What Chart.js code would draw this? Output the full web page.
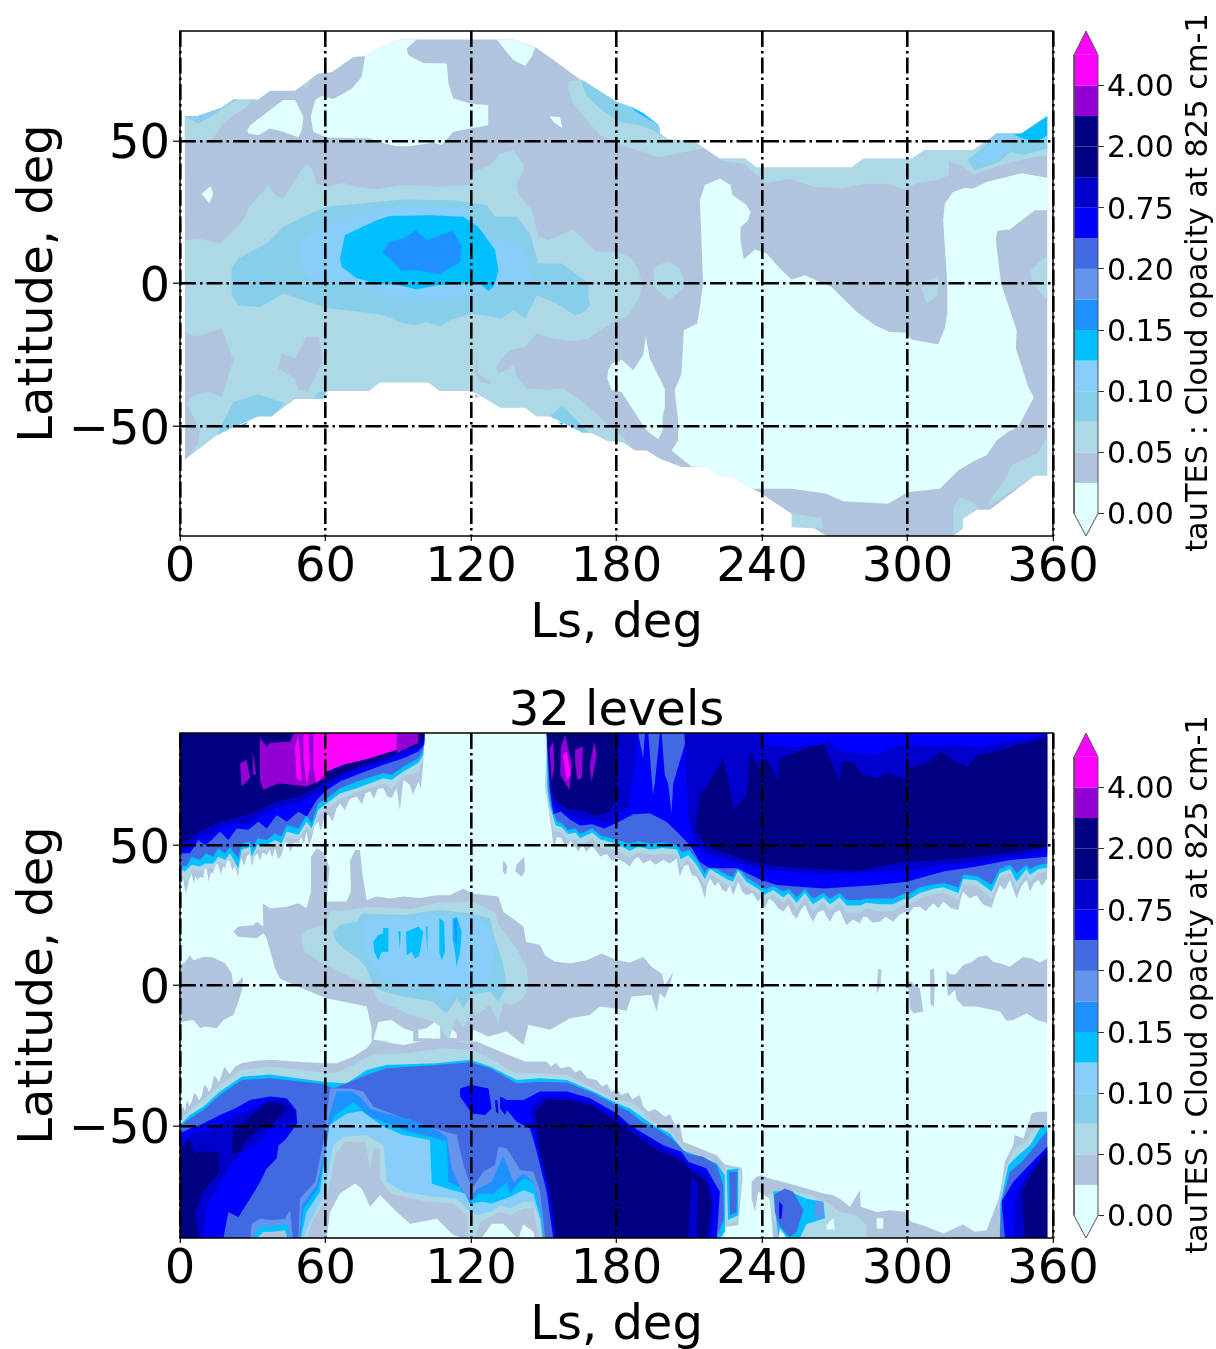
<!DOCTYPE html>
<html><head><meta charset="utf-8">
<style>html,body{margin:0;padding:0;background:#fff;width:1216px;height:1349px;overflow:hidden}canvas{position:absolute}</style>
<script src="https://cdn.jsdelivr.net/npm/chart.js@4"></script></head><body>
<canvas id="top" width="1100" height="647" style="left:0;top:0"></canvas>
<canvas id="bot" width="1100" height="699" style="left:0;top:650px"></canvas>
<canvas id="cbTop" width="156" height="570" style="left:1060px;top:0"></canvas>
<canvas id="cbBot" width="156" height="570" style="left:1060px;top:702px"></canvas>
<script>
const LS_TICKS=[0,60,120,180,240,300,360];
const LAT_TICKS=[-50,0,50];
const CB_TICKS=[0,2,4,6,8,10,12,14];
const CB_LABELS=['0.00','0.05','0.10','0.15','0.20','0.75','2.00','4.00'];
const CB_COLORS=['#e0ffff','#b0c4de','#add8e6','#87ceeb','#87cefa','#00bfff','#1e90ff','#6495ed','#4169e1','#0000ff','#0000cd','#000080','#000080','#9400d3','#ff00ff'];
const CYAN='#e0ffff',STEEL='#b0c4de',LIGHT='#add8e6',SKY='#87ceeb',LSKY='#87cefa',DEEP='#00bfff',DODGER='#1e90ff',CORN='#6495ed',ROYAL='#4169e1',BLUE='#0000ff',MEDIUM='#0000cd',NAVY='#000080',VIOLET='#9400d3',MAGENTA='#ff00ff';

/* ---------- upper panel: Ls, latitude contour outlines ---------- */
const P1_BOTTOM=[[180,-55.3],[176.6,-55.3],[169.8,-52.4],[166.3,-52.4],[152.6,-46.5],[147,-46.5],[142.3,-43.5],[132,-43.5],[126.5,-40.6],[120.3,-37.7],[107.2,-37.7],[102.4,-34.6],[82.5,-34.6],[77.7,-37.7],[60.5,-37.7],[59,-40.4],[47.4,-40.4],[37.8,-46.5],[32.3,-46.5],[20.6,-50.9],[15.1,-53.2],[2.1,-61.6]];
const P1_DOMAIN=[[2,58.6],[6.9,58.6],[17.2,61.6],[22,64.5],[32.3,64.5],[37.1,67.6],[47.4,67.6],[57,73.6],[62.5,74],[71.5,79.4],[76.3,79.7],[81,82.4],[90.7,85.5],[137.5,85.5],[147,82.6],[154.6,78],[165,71.5],[180,63.7],[182,62],[186,62],[197.5,55.5],[198,52.6],[201.3,50.5],[211.6,50],[222.6,43.8],[233,43.8],[237.7,40.7],[277,40.7],[281.7,43.7],[301.6,43.7],[307,46.7],[327,46.7],[336.7,52.6],[347,52.6],[357.6,58.6],[357.6,-67.3],[352.5,-67.3],[334,-79.3],[328.5,-79.3],[322.7,-82.5],[322.7,-86],[318.8,-88.5],[266.6,-88.5],[252.2,-80.7],[239.8,-73.7],[227.4,-67.6],[221.9,-67.3],[217.1,-64.3],[206.8,-64.3],[197.9,-61.4],[192.4,-58.5],[187.6,-58.5],[182.7,-55.6],...P1_BOTTOM];
const P1_CYAN_A=[[92.1,85.5],[97.6,85.5],[93.5,82.4],[94.2,80],[100.3,77.3],[110,77.1],[110.7,70.1],[112.7,64.8],[119.6,63.1],[127.1,62.5],[127.1,55.5],[119.6,54.3],[112.7,53.2],[107.9,48.5],[104.5,49.3],[94.8,48.1],[89.3,48.1],[81.8,49.6],[78.4,50.8],[60.5,51.2],[55,53.2],[53.9,58.4],[55.7,64.3],[58.4,65.7],[63.2,64.7],[70.8,68.3],[74.9,72.4],[76.3,79.7],[81.1,82.4],[90.7,85.5]];
const P1_CYAN_B=[[27.8,53.7],[28.9,55.5],[42.6,64.3],[47.4,64.3],[50.9,58.4],[50.2,53.7],[48.8,51.2],[42.6,53.2],[37.1,54.3],[32.3,52],[28.2,52.6]];
const P1_CYAN_C=[[130.6,85.5],[137.5,85.5],[146.4,82.6],[145,79.4],[142.3,76.2],[137.5,78.3],[134,81.8]];
const P1_CYAN_D=[[152.3,58.6],[156.7,58.4],[157.7,54.3],[154,56.7]];
const P1_CYAN_E=[[8.9,31.5],[12.6,34.1],[13.7,31.5],[12.1,28]];
const P1_CYAN_F=[[214.4,29.2],[216.4,34.5],[222.6,36.8],[227,34.5],[227.8,31],[233.6,27.5],[235.3,25.1],[234.3,22.2],[231.1,19.6],[231.1,15.2],[232.5,8.4],[237,11.9],[241.9,10.5],[247.4,5.3],[252.2,1.4],[257.7,2.9],[265.2,0],[268.7,-1.2],[279,-9.9],[286.5,-14.6],[292.7,-17],[299.6,-17.3],[301.6,-19.6],[312.6,-21.3],[315.4,-15.8],[316.4,-10.5],[316.4,0],[314.7,22.2],[315.4,28],[318.8,32.1],[323.6,33.5],[327.1,33.3],[332.6,35.6],[347,38.6],[357.6,37.1],[357.6,25.7],[352.5,25.7],[342.2,18.9],[337,18.5],[336.4,15.2],[338.6,0],[345,-16.4],[344.7,-22.8],[349.8,-36.3],[352.1,-40],[345.6,-50.3],[341.5,-52],[336.7,-55],[332.6,-60.2],[327.8,-62],[320.9,-65.5],[313.3,-71.9],[300.3,-73.1],[292,-77.2],[273.5,-76.3],[266.6,-73.7],[252.2,-71.9],[236.4,-71.9],[227.4,-67.6],[221.9,-67.3],[217.1,-64.3],[210.9,-64.1],[202.7,-58.5],[205.4,-55],[205.4,-47.9],[204,-37.4],[206.8,-31.6],[207.8,-16.4],[213.3,-14],[214.6,-7],[215.7,0]];
const P1_CYAN_G=[[176.6,-30.4],[176.2,-33.3],[178,-37.4],[180,-37.7],[182.1,-38],[186.9,-44.4],[192.4,-51.5],[197.2,-54.6],[199,-51.5],[199,-46.8],[199.9,-43.3],[199.9,-36.8],[193.7,-26.3],[192.1,-18.7],[191,-25.1],[186.9,-30.4],[182.1,-26.7],[180,-27.5],[178,-28]];
const P1_LIGHT_NW=[[2,58.6],[6.9,58.6],[17.2,61.6],[22,64.5],[30.2,64.5],[26.8,61.4],[22,59],[17.9,56.1],[13,50.2],[2,50.2]];
const P1_LIGHT_TINY=[[50.2,69.5],[54.3,71.3],[52.2,68.3]];
const P1_LIGHT_MAIN=[[2,15.2],[7.6,15.8],[16.5,14],[26.1,22.2],[28.2,26.3],[36.4,34.5],[39.2,31],[42.6,29.8],[48.8,38],[52,42],[54.3,40.3],[56.4,35],[60.5,33.9],[67.4,35.3],[72.9,33.9],[81.1,33.1],[92.1,34.5],[105.8,33.9],[119.6,34.5],[121,39.1],[127.8,41.5],[132,45.6],[137.5,46.7],[141.6,42.1],[141.6,39.1],[138.8,35],[139.5,31.5],[145,25.7],[147.8,16.4],[151.9,15.2],[162.2,18.9],[171.8,11.1],[180,11.1],[185.5,9.3],[188.9,5.3],[190.6,0],[190.6,-1.2],[188.9,-5.8],[184.1,-11.7],[180,-12.9],[173.2,-16.4],[168.4,-19.3],[162.2,-20.2],[154,-19.3],[147.1,-17.5],[142.3,-22.2],[136.1,-23.4],[132,-26.9],[130.3,-29.8],[131.3,-31.6],[136.1,-29.8],[137.5,-28],[138.8,-32.7],[142.9,-36.8],[151.2,-37.2],[158.1,-36.8],[166.3,-41.5],[174.6,-48],[180,-52],[183.4,-54.4],[187,-58.2],[182.7,-55.6],...P1_BOTTOM];
const P1_LIGHT_BLOB=[[195.1,5.3],[198.6,7],[202,7.6],[206.1,5.3],[208.2,0],[207.5,-1.8],[202,-5.8],[195.8,-1.8]];
const P1_LIGHT_STRIP=[[222.6,43.8],[232.9,43.8],[237.7,40.7],[276.9,40.7],[281.7,43.7],[301.6,43.7],[307.1,46.7],[327.1,46.7],[336.7,52.6],[347,52.6],[357.6,58.6],[357.6,45],[347.7,43.5],[339.5,41.8],[327.1,38],[323,40.9],[317.2,43],[317,38],[312.6,36.2],[304.4,35.3],[298.9,33],[291.3,35],[283.1,35],[272.1,33.3],[261.1,33.9],[251.5,36.6],[241.9,35.3],[237,38.6],[232.9,41.8],[222.6,43.2]];
const P1_LIGHT_N=[[160.1,70.7],[165.6,71.5],[180,63.7],[186.2,61.9],[197.5,55.5],[197.9,52.6],[201.3,50.5],[211.6,50],[215.7,47.3],[208.2,46.1],[202,45],[197.2,44.2],[191,46.1],[180,49],[173.2,52],[167.7,57.2],[162.2,63.1],[160.1,67.8]];
const P1_LIGHT_S1=[[252.2,-80.7],[264.5,-82.1],[265.2,-86],[252.2,-85.4]];
const P1_LIGHT_S2=[[333.3,-76.6],[340.8,-67.8],[342.9,-63.7],[353.9,-59.4],[357.6,-53.8],[357.6,-67.3],[352.5,-67.3],[334,-77.8]];
const P1_LIGHT_S3=[[318.8,-78.9],[321.5,-74.9],[327.7,-76.9],[329.1,-78.9],[322.7,-82.4],[322.7,-86],[318.8,-88.3]];
const P1_LIGHT_E=[[357.6,9.9],[350.8,4.7],[351.5,0],[353.9,-2.3],[357.6,-5.8]];
const P1_LIGHT_M=[[305.8,0],[312.6,2.6],[312.6,-4.1],[307.8,-7],[305.8,-1.8]];
const P1_STEEL_1=[[2.1,-17],[6.9,-18.7],[17.2,-15.8],[22,-26.9],[17.2,-39.8],[11.7,-37.8],[5.5,-39.2],[2.7,-42.1],[8.2,-51.5],[7.6,-56.1],[2.1,-61.6]];
const P1_STEEL_2=[[52.2,-18.7],[57,-18.7],[58.8,-26.9],[52.9,-38],[48.8,-37.4],[47.4,-33.3],[40.5,-29.8],[41.9,-24.6],[47.4,-26.3]];
const P1_STEEL_3=[[122.3,-25.7],[123,-31.6],[128.5,-34.5],[127.8,-35.3],[123.7,-34.5],[121.6,-31]];
const P1_STEEL_4=[[121.6,-38.6],[123.7,-39.8],[121.6,-40]];
const P1_SKY_MAIN=[[21.3,0],[21.3,5.3],[24,8.8],[35.7,14],[42.6,19.9],[50.9,23.4],[60.5,26.9],[74.2,28],[92.1,29.4],[112.7,29.2],[126.5,27.5],[129.9,23.4],[138.8,23.4],[144.3,17.5],[147.8,7],[157.4,7],[165,2.3],[168.4,0],[168.4,-4.7],[169.3,-7.6],[165.6,-10.5],[162.9,-11.1],[155.3,-7],[147.1,-4.1],[142.3,-12.3],[137.5,-9.4],[132.6,-12.3],[120.3,-10.5],[111.3,-12.9],[107.2,-15.2],[101.7,-13.5],[96.9,-14.6],[92.1,-14],[83.8,-11.1],[75.6,-10],[61.2,-8.8],[42.6,-3.5],[33,-8.2],[24,-7.6],[21.3,-4.1]];
const P1_SKY_NW=[[6.9,58.6],[17.2,61.6],[22,64.5],[24,64.5],[20.6,63.1],[13.7,59],[7.6,56.1],[2,58.6]];
const P1_SKY_N=[[165.9,71.3],[180,63.7],[186.2,61.9],[197.5,55.5],[197.9,52.6],[201.3,50.5],[206,49.3],[200.6,50.8],[195.1,53.7],[189.6,55.5],[182.7,56.3],[180,57.2],[173.2,61.3],[167.7,65.7],[165.9,69.5]];
const P1_SKY_NE=[[324.6,43.2],[329.8,46.7],[336.7,52.6],[347,52.6],[357.6,58.6],[357.6,47.3],[347.7,45],[342.2,46.1],[338,42.6],[327.8,39.7]];
const P1_SKY_S1=[[15.1,-53.2],[22,-41.5],[32.3,-38.8],[43.3,-42.1],[37.8,-46.5],[32.3,-46.5],[20.6,-50.9]];
const P1_SKY_S2=[[55,-40.4],[57,-38],[60.5,-37.7],[59,-40.4]];
const P1_SKY_S3=[[152.6,-46.5],[157.4,-42.7],[168.4,-52],[166.3,-52.4]];
const P1_LSKY_MAIN=[[49.5,12.9],[52.2,16.9],[60.5,19.9],[68.7,23.4],[83.8,26.3],[94.8,26.9],[116.8,26.3],[122.3,22.2],[128.5,15.8],[138.8,14.6],[143.6,8.2],[145,0],[133.3,0],[130.6,-2.3],[119.6,-3.5],[107.2,-6.1],[97.6,-6.1],[85.2,-4.1],[69.4,-0.6],[60.5,0],[53.6,2.3],[50.2,6.4]];
const P1_LSKY_N=[[186.2,61.7],[197.5,55.5],[197.5,54.9],[192.4,57.5],[188.2,57.8],[184,61.7]];
const P1_LSKY_NE=[[330.5,45.8],[336.7,52.3],[343.6,52.3],[342.2,47.3],[338,43.8],[330.5,42],[327,43.2]];
const P1_DEEP_MAIN=[[66,8.8],[68,16.9],[81.1,22.2],[86.6,23.7],[103.1,23.9],[116.8,23.4],[123,19.9],[129.9,11.7],[131.3,4.7],[129.9,0],[129.2,-1.2],[127.1,-2.6],[123.7,0],[120,0],[105.8,-0.6],[97.6,-2.1],[90.7,-0.6],[81,0],[72.9,1.8],[66.7,5.8]];
const P1_DEEP_N=[[186.2,61.9],[191,59.8],[197.5,55.5],[191.7,58.4],[187.6,60.5]];
const P1_DEEP_NE=[[347,52.6],[357.6,58.6],[357.6,52],[353.2,49.6],[347.7,50.8],[343.6,52.3]];
const P1_DEEP_S1=[[25.4,-49.4],[28.2,-48.5],[26.8,-49.7]];
const P1_DEEP_S2=[[156,-48.5],[158,-49],[157.4,-49.7]];
const P1_DODGER=[[83.2,10.9],[86.6,14.6],[92.1,15.8],[97.3,18.7],[101.7,15.2],[112.4,18.5],[116.2,12.9],[115.5,7.6],[107.2,3.3],[96.9,4.7],[91.4,4.4],[87.3,8.2]];

const TOP_LAYERS=[[STEEL,P1_DOMAIN],[CYAN,P1_CYAN_A],[CYAN,P1_CYAN_B],[CYAN,P1_CYAN_C],[CYAN,P1_CYAN_D],[CYAN,P1_CYAN_E],[CYAN,P1_CYAN_F],[CYAN,P1_CYAN_G],
[LIGHT,P1_LIGHT_NW],[LIGHT,P1_LIGHT_TINY],[LIGHT,P1_LIGHT_MAIN],[LIGHT,P1_LIGHT_BLOB],[LIGHT,P1_LIGHT_STRIP],[LIGHT,P1_LIGHT_N],[LIGHT,P1_LIGHT_S1],[LIGHT,P1_LIGHT_S2],[LIGHT,P1_LIGHT_S3],[LIGHT,P1_LIGHT_E],[LIGHT,P1_LIGHT_M],
[STEEL,P1_STEEL_1],[STEEL,P1_STEEL_2],[STEEL,P1_STEEL_3],[STEEL,P1_STEEL_4],
[SKY,P1_SKY_MAIN],[SKY,P1_SKY_NW],[SKY,P1_SKY_N],[SKY,P1_SKY_NE],[SKY,P1_SKY_S1],[SKY,P1_SKY_S2],[SKY,P1_SKY_S3],
[LSKY,P1_LSKY_MAIN],[LSKY,P1_LSKY_N],[LSKY,P1_LSKY_NE],
[DEEP,P1_DEEP_MAIN],[DEEP,P1_DEEP_N],[DEEP,P1_DEEP_NE],[DEEP,P1_DEEP_S1],[DEEP,P1_DEEP_S2],[DODGER,P1_DODGER]];

/* ---------- lower panel ---------- */
const P2_DOMAIN=[[0,-90],[0,90],[357.6,90],[357.6,-90]];
const P2_EQ_LEFT=[[0,7.3],[2,8.2],[4.1,10.8],[5.5,9],[9.6,10.2],[13.1,10.2],[18.6,7.9],[21.3,4.3],[22,0],[24,1.3],[25.9,3],[25.9,0],[25.4,-2.1],[24.1,-5.7],[22,-10.5],[17.9,-12.3],[15.1,-15.2],[10.3,-14.6],[8.3,-15.2],[5.5,-12.3],[1.4,-12.8],[0,-13.5]];
const P2_CENTRAL=[[22,19.2],[24,21],[30.2,21.5],[31.6,22.7],[34.4,21],[34.1,29.3],[37.1,27.5],[44,28.1],[48.8,29.3],[52.2,27.5],[54,33.5],[54,45.9],[56.4,48.9],[59.8,47.1],[61.6,41.8],[60.5,29.9],[68.7,29.9],[70.5,33.5],[70.1,44.2],[72.2,48.3],[74.2,48.3],[75.3,39.4],[77,30.5],[81.1,31.7],[86.6,31],[92.1,31.7],[99,31.2],[105.8,32.2],[111.3,32.2],[116.8,34.6],[120.3,32.8],[131.3,31.7],[133.3,26.3],[141.6,21],[142.7,15.6],[148.5,14.4],[150.5,10.8],[154.6,8.5],[160.8,7.9],[167.7,9],[173.9,11.4],[180,9],[185.5,8.2],[191,10.2],[194.4,6.7],[198.6,4.3],[199.9,0],[203.4,4.9],[202,0],[199.9,-4.5],[197.9,-2.7],[196.5,-9.3],[194.4,-3.3],[186.2,-3.9],[184.1,-9],[180,-8.3],[173.2,-7.5],[169,-10.5],[160.8,-11.7],[152.6,-15.8],[143.7,-14],[141.6,-21.2],[134.8,-16.4],[127.1,-18.2],[121,-15.8],[120.3,-20],[107.3,-20],[79,-20],[79,-15.2],[77,-7.5],[60.5,-4.5],[50.2,-1],[41.2,2.5],[39.2,6.1],[35.7,16.8],[34.4,18.6],[31.6,16.8],[24,17.4]];
const P2_SPOT_A=[[133.3,44.8],[135,42.4],[134.4,39.4],[133,40.6]];
const P2_SPOT_B=[[138.8,43],[141.9,46],[142.3,40.6],[140.9,38.8],[138.2,40.6]];
const P2_TOOTH_A=[[287.3,0],[288,6.1],[289.3,5.5],[288.9,0],[287.3,-3]];
const P2_TOOTH_B=[[300.3,1.3],[301.7,1.3],[303,0],[305.1,-1],[306.5,-9.3],[302.4,-9.9],[301,-8.1]];
const P2_TOOTH_C=[[309.3,5.5],[310.9,6.1],[311.3,0],[310.9,-7.5],[309.5,-6.9]];
const P2_EQ_RIGHT=[[316.1,5.5],[317.2,4.3],[319.6,3.7],[323,7.3],[326.5,8.4],[329.2,10.2],[332.6,10.8],[335.4,8.4],[338.1,7.9],[342.2,6.7],[347.7,10.2],[351.1,9.6],[354.6,8.2],[357.6,9.6],[357.6,-13.4],[353.2,-12.3],[349.1,-9.9],[343.6,-12.3],[340.9,-12.6],[338.1,-9.3],[328.5,-7.5],[323,-7.5],[320.3,-5.1],[319.6,-1.5],[316.8,-3.9],[316.1,0]];
const P2_HOLE_A=[[81.8,-13],[87.3,-12.3],[92.1,-15.2],[96.2,-16.4],[96.2,-20.2],[92.1,-21.2],[85.2,-19.8],[79.7,-19.4]];
const P2_HOLE_B=[[98.3,-15.8],[101.7,-15.2],[105.2,-12.8],[107.3,-14],[107.3,-19.4],[103.1,-18.8],[98.3,-18.8]];
const P2_HOLE_C=[[111.1,-14.6],[114.1,-17],[114.1,-18.8],[111.1,-18.6]];
const P2_C_LIGHT=[[50.2,18],[52.2,19.8],[60.5,22.1],[61.9,26.3],[72.2,27.3],[78.4,28.1],[94.8,27.3],[107.2,29.6],[120.3,29.9],[129.9,26.3],[131.3,21.5],[138.8,13.2],[143,6.1],[143.7,0],[141.6,-4.5],[137.5,-6.9],[133.4,-6.3],[131.3,-13.4],[127.9,-6.9],[122.3,-10.5],[120.3,-8.7],[116.9,-15.2],[114.1,-11.7],[110.7,-19.4],[107.2,-14.6],[104.5,-12.9],[100.3,-11.7],[94.8,-10.5],[89.3,-8.1],[81.8,-5.7],[79,-1],[78.4,0],[71.5,2.5],[63.2,6.1],[57.7,8.5],[51.5,12],[50.2,15.6]];
const P2_C_SKY=[[63,18.6],[66,21.5],[72.9,22.7],[74.9,25.7],[92.1,25.1],[106.5,26.9],[120.3,25.7],[127.8,23.9],[129.9,16.8],[133.3,7.3],[134.7,0],[133.3,-2.7],[131.3,-5.7],[127.8,-2.1],[120.3,-3.3],[116.8,-8.1],[114.1,-4.5],[110,-9.9],[107.2,-8.1],[104.5,-5.7],[92.1,-3.9],[83.8,-2.1],[79.7,0],[77,6.1],[73.5,9.6],[67.4,13.2],[64.6,15.6]];
const P2_C_LSKY=[[75.3,22.7],[79.7,24.2],[92.1,23.7],[105.8,25.4],[120.3,23.7],[125.8,22.5],[128.5,16.8],[129.9,9.6],[126.5,0],[114.1,-2.1],[110,-5.7],[107.2,-4.5],[105.8,-1],[92.1,0],[83.8,2.5],[78.4,9.6],[75.6,12]];
const P2_SPIKE_1=[[79.7,15.6],[81.8,18],[83.8,18.6],[83.8,20.5],[85.9,20.5],[85.9,12],[83.2,12],[81.8,9],[80.1,12]];
const P2_SPIKE_2=[[90,19.4],[91,19.1],[90.7,13.2]];
const P2_SPIKE_3=[[93.2,19.1],[98.3,21],[100.3,19.1],[98.7,10.8],[96.9,9.6],[95.5,12],[93.5,10.8]];
const P2_SPIKE_4=[[101.4,21],[102.1,21],[102,10.8]];
const P2_SPIKE_5=[[106.9,23.9],[108.9,22.7],[109.3,12],[107.9,9],[106.9,12]];
const P2_SPIKE_6=[[112.4,23.9],[114.1,24.5],[116.2,19.1],[115.5,12],[114.1,6.7],[113.4,12],[112.4,16.8]];
const P2_SPIKE_7=[[113,23.3],[114.1,23.9],[114.3,14.4],[113.4,15.6]];

const P2_S_STEEL=[[0,-46.2],[0.6,-44],[1.4,-43.2],[2.1,-45],[2.8,-40.8],[3.8,-43],[4.8,-41.4],[5.8,-38.5],[6.9,-39],[7.8,-41],[8.9,-39.6],[9.9,-35.5],[11,-36.1],[12,-38],[13.1,-36.1],[14,-32],[15.1,-33.1],[16,-34.5],[17.2,-31.9],[18.2,-29],[19.3,-30.1],[20.5,-31.5],[22.7,-28.9],[25.4,-27.7],[30.2,-26.9],[37.1,-26.5],[46.7,-27.1],[59.1,-27.7],[64.6,-27.7],[71.5,-25.3],[77,-22.4],[79.7,-19.4],[92.1,-21.2],[105.8,-18.8],[115.5,-20],[122.3,-20],[134,-24.2],[142.3,-27.1],[151.2,-27.1],[153,-29],[155,-27.5],[157,-29.5],[160.8,-28.9],[163,-31],[165,-30],[168,-33],[171.8,-33.7],[174,-36],[176,-35],[178,-38],[180,-36.7],[182,-39],[184.8,-38.1],[186.5,-40.5],[189.6,-39],[191,-43],[193.1,-45],[196,-44],[199.9,-46.8],[202,-46],[204.1,-49.7],[206,-49],[207.5,-55.7],[214.4,-58.1],[221.3,-60.5],[224.7,-63.8],[231.6,-65],[232,-68.2],[230.2,-85.4],[224.7,-86],[224,-90],[0,-90]];
const P2_S_LIGHT=[[0,-48.6],[4.1,-44.4],[9.6,-40.8],[16.5,-35.5],[25.4,-30.1],[37.1,-28.9],[59.1,-31],[64.6,-31],[71.5,-28.3],[79.8,-24.5],[92.1,-24.2],[108.6,-22.4],[120.3,-23],[128.6,-26.5],[138.9,-31.3],[148.5,-31.3],[159.5,-31.9],[170.5,-36.7],[180.1,-40.8],[185.5,-41.4],[190.3,-44.4],[193.8,-48],[201.3,-51],[205.4,-55.7],[210.3,-59.9],[218.5,-61.6],[222.6,-65.2],[224.7,-66],[225,-85],[224,-90],[0,-90]];
const P2_S_DEEP=[[0,-49.7],[4.1,-46.2],[9.6,-43.2],[16.5,-37.8],[25.4,-32.5],[37.1,-31.7],[59.1,-34.3],[68.7,-34.9],[77,-30.1],[85.2,-28.3],[105.8,-27.7],[119.6,-26.5],[127.9,-28.9],[138.9,-33.7],[148.5,-33.1],[159.5,-33.7],[170.5,-37.8],[180.1,-42],[185.5,-43.8],[190.3,-46.8],[195.1,-49.7],[202,-52.7],[207.5,-58.7],[213,-60.5],[221.3,-63.4],[224.7,-67.6],[224.7,-87.8],[222.6,-90],[0,-90]];
const P2_S_ROYAL=[[0,-50.3],[4.1,-47.4],[9.6,-44.4],[16.5,-39],[25.4,-33.7],[37.1,-33.1],[59.1,-35.1],[63.2,-36.7],[77,-31.9],[85.2,-29.5],[105.8,-28.3],[119.6,-27.4],[127.9,-29.5],[138.9,-34.9],[148.5,-34.3],[159.5,-34.6],[170.5,-38.4],[180.1,-42.8],[185.5,-45],[190.3,-48.6],[196.5,-51],[202.7,-54.5],[208.9,-59.9],[215.8,-61],[221.3,-64],[224,-71.2],[224.3,-83.1],[221.3,-90],[0,-90]];
const P2_H_CORN=[[48.8,-90],[49.5,-75.9],[55.7,-70],[59.1,-55.7],[61.9,-36.7],[70.1,-36.7],[75.6,-37.8],[79.8,-43.2],[90.7,-46.8],[100.3,-49.7],[114.1,-53.3],[116.9,-64],[120.3,-72.4],[125.1,-66.4],[129.9,-64],[131.3,-57.5],[134.8,-58.1],[140.3,-65.8],[145.8,-66.4],[148.5,-73.5],[150.6,-90]];
const P2_H_DODGER=[[49.2,-90],[50.2,-78.3],[56.4,-71.2],[59.8,-59.3],[61.6,-46.2],[64.6,-37.8],[70.8,-37.8],[74.9,-40.2],[78.4,-44],[85.2,-45.6],[94.8,-47.6],[105.8,-51.5],[110,-53.9],[112,-65.2],[115.5,-71.8],[118.9,-75.9],[123,-72.4],[128.5,-70],[133.3,-60.5],[137.5,-70],[141.6,-67],[145.7,-70],[148.7,-79.5],[149.8,-90]];
const P2_H_DEEP=[[49.5,-90],[50.9,-79.5],[57,-72.4],[60.2,-58.1],[63.2,-46.8],[71.5,-41.4],[78.4,-46.8],[83.8,-48.6],[94.8,-52.1],[103.1,-53.9],[110,-55.5],[110.7,-70],[115.5,-71.8],[118.9,-78.3],[123,-74.1],[129.2,-74.1],[134.8,-70],[136.1,-74.1],[141.6,-68.5],[145.7,-70],[149.1,-81.9],[149.8,-90]];
const P2_H_LSKY=[[49.8,-90],[52.2,-80.7],[57.7,-73.5],[61.6,-49.7],[68.7,-45.6],[74.9,-44.7],[83.8,-50.3],[92.1,-53.3],[103.1,-55.1],[103.8,-70.6],[110,-72.4],[117.5,-74.1],[119.6,-77.7],[124.4,-77.1],[128.5,-77.7],[136.1,-75.3],[141.6,-73],[145.7,-74.1],[148.7,-83.1],[149.6,-90]];
const P2_H_LIGHT=[[50.9,-90],[53.6,-84.3],[59.4,-74.7],[63.2,-56.9],[67.4,-53.9],[77,-53.3],[83.9,-56.9],[85.3,-70],[92.1,-73.5],[104.5,-75.3],[114.1,-75.9],[118.3,-79.5],[122.4,-81.9],[127.9,-80.7],[132,-78.3],[136.1,-79.5],[141.6,-77.1],[145.7,-77.1],[148.5,-84.3],[149.2,-90]];
const P2_H_STEEL=[[52.3,-90],[55,-83.1],[60.5,-76],[64,-60.5],[68.1,-55.7],[76.3,-55.7],[78.4,-65.2],[80,-58.1],[82.5,-58.1],[82.5,-68.8],[86.6,-74.1],[96.3,-76],[101.7,-77.1],[112.7,-77.7],[118.3,-81.9],[118.9,-90],[121.7,-90],[123.8,-84.3],[127.9,-82.5],[132,-80.7],[136.1,-81.9],[141.6,-79.5],[145.7,-79.5],[147.8,-90]];
const P2_H_CYAN_A=[[60.5,-90],[61.9,-80.7],[66,-74.1],[72.2,-70.6],[74.9,-72.4],[78.4,-78.9],[82.5,-74.7],[89.4,-80.7],[94.9,-84.9],[105.9,-83.1],[112.8,-89],[116.9,-90]];
const P2_H_CYAN_B=[[124.4,-90],[128.6,-84.9],[133.4,-84.9],[138.9,-90]];
const P2_H_CYAN_C=[[139.6,-90],[141.6,-85.2],[145.7,-87.8],[146.3,-90]];
const P2_Z_CORN=[[28.9,-90],[29.6,-84.9],[33,-83.1],[37.8,-83.6],[43.3,-83.1],[45.4,-80.1],[46.5,-90]];
const P2_Z_DEEP=[[30.2,-90],[32.3,-86],[37.1,-86],[44,-84.9],[45.7,-90]];
const P2_Z_STEEL=[[31.9,-90],[34.4,-87.8],[38.5,-87.8],[43.3,-87.2],[44.3,-90]];
const P2_K_LIGHT=[[224.7,-64.6],[231.6,-65.8],[230.2,-84],[225.4,-85.4]];
const P2_K_DEEP=[[225.4,-65.8],[230.2,-65.2],[230.2,-81.9],[226,-83.6]];
const P2_K_ROYAL=[[226.5,-66.4],[229.8,-66.4],[229.5,-80.7],[226.8,-81.9]];
const P2_M_STEEL=[[235.7,-70],[237.8,-68.2],[239.8,-67.6],[243.3,-68.8],[248.8,-70],[258.4,-72.4],[265.3,-74.1],[269.4,-74.8],[272.1,-76],[276.3,-78.9],[280.4,-72.9],[280.7,-78.9],[287.3,-80.7],[292.8,-80.1],[299.6,-80.7],[301,-84],[307.9,-86],[314.8,-88.4],[322.9,-85.2],[327.8,-87.8],[332.6,-87.2],[337.4,-76.5],[338.4,-90],[244.6,-90],[243.3,-75.9],[238.4,-73.5],[237.1,-80.7],[235.7,-75.9]];
const P2_M_LIGHT=[[242.6,-74.7],[250.1,-72.6],[259.8,-74.7],[266.6,-77.1],[272.1,-80.7],[279,-81.9],[283.1,-85.4],[283.1,-90],[248.8,-90],[244.6,-83]];
const P2_M_CYAN_A=[[266.6,-85.4],[269.4,-83],[270,-87],[266.6,-87]];
const P2_M_CYAN_B=[[287.3,-83],[290,-83],[290,-86.6],[287.3,-86.6]];
const P2_M_DEEP=[[244.6,-73.5],[250.1,-73],[258.4,-76],[265.3,-77.1],[266,-83],[258.4,-85],[255.6,-90],[246.7,-90]];
const P2_M_ROYAL=[[245,-74.7],[249.4,-72.4],[252.9,-73.5],[257,-80.1],[254.3,-87.8],[251.5,-89.6],[247.4,-86],[245.3,-80.7]];
const P2_M_CORN=[[261.8,-77.1],[265.3,-77.1],[265.3,-82.5],[261.8,-83.1]];
const P2_M_BLUE=[[247.1,-77.1],[248.5,-78.3],[248,-83.1],[247.1,-83.1]];
const P2_M_CYAN_C=[[246.7,-90],[247.4,-86.6],[249.4,-89],[250.1,-90]];
const P2_SE_STEEL=[[337.4,-77],[339,-70],[340.2,-62.8],[343.6,-56.9],[344.3,-53.3],[347.8,-54.5],[351.2,-45.6],[353.9,-45],[357.6,-45],[357.6,-90],[338.4,-90]];
const P2_SE_LIGHT=[[338.8,-71.2],[340.9,-64],[344.3,-58.1],[349.1,-55.7],[351.9,-51],[357.6,-49.7],[357.6,-90],[338.4,-90]];
const P2_SE_DEEP=[[338.1,-78.3],[341.6,-64],[345.7,-60.5],[350.5,-57],[354.6,-51],[357.6,-49.7],[357.6,-90],[338.1,-90]];
const P2_SE_ROYAL=[[338.1,-90],[338.8,-77],[342.3,-66.4],[347.1,-62.8],[351.9,-58],[354.6,-55],[357.6,-52],[357.6,-90]];
const P2_SE_BLUE=[[340.2,-90],[338.8,-77],[343.6,-70],[349.1,-65],[357.6,-57.5],[357.6,-90]];
const P2_SE_MEDIUM=[[344,-90],[344.5,-75],[349,-68],[357.6,-57.8],[357.6,-90]];
const P2_SE_NAVY=[[348.4,-90],[347.1,-73.5],[351.9,-66.4],[357.6,-58.6],[357.6,-90]];
const P2_SL_BLUE=[[0,-52.7],[4.1,-51],[8.3,-49.7],[16.5,-46.2],[22.7,-43.8],[28.9,-40.8],[37.1,-39.6],[44,-40.2],[47.9,-44.4],[48.4,-49.1],[43.3,-55.1],[40.6,-56.9],[39.9,-61.6],[35.8,-65.2],[32.3,-71.2],[28.9,-75.9],[24.1,-82.5],[19.9,-80.7],[17.9,-90],[0,-90]];
const P2_SL_MEDIUM=[[0,-56.9],[5.5,-52.7],[12.4,-52.1],[19.3,-48],[28.9,-44.4],[37.1,-40.8],[44,-40.8],[47.4,-45],[47.9,-48.6],[37.8,-49.7],[33,-55.7],[26.1,-59.3],[22,-62.8],[17.9,-68.8],[11,-78.3],[9.6,-90],[0,-90]];
const P2_SL_NAVY=[[0,-58.1],[2.1,-56.9],[3.4,-54.5],[6.2,-59.9],[8.3,-59.3],[15.8,-59.3],[16.5,-66.4],[9.6,-73.5],[6.2,-80.7],[7.6,-90],[0,-90]];
const P2_SL_NAVY2=[[21.3,-59.9],[22,-52.1],[25.4,-50.3],[28.9,-46.8],[36.4,-41.4],[41.2,-42],[44,-43.8],[37.8,-49.7],[33,-50.9],[26.8,-55.7],[24.8,-59.3]];
const P2_SR_P1=[[115.5,-36.7],[120.3,-35.5],[127.2,-36.7],[128.5,-43.8],[125.8,-46.2],[120.3,-45.6],[115.5,-39.6]];
const P2_SR_P2=[[129.9,-40.8],[130.9,-40.8],[131.3,-45.6],[130.3,-45]];
const P2_SR_BLUE=[[132,-39.6],[134.8,-40.8],[141.6,-40.8],[148.5,-37.8],[159.5,-37.8],[169.1,-40.2],[180.1,-45.6],[185.5,-49.7],[191,-52.7],[199.3,-56.9],[206.8,-59.3],[209.6,-62.8],[217.1,-65.2],[222.6,-73.5],[221.9,-83.1],[221.3,-90],[153.9,-90],[151.2,-73.5],[147.1,-59.3],[144.4,-51],[138.9,-48.6],[134.8,-44.4],[134.1,-46.2],[132,-43.8]];
const P2_SR_MEDIUM=[[144.4,-43.8],[148.5,-40.2],[159.5,-39.6],[169.1,-41.4],[180.1,-46.8],[185.5,-50.3],[191,-53.3],[199.3,-58.1],[206.8,-61],[210.3,-64.6],[217.1,-67.6],[219.9,-75.9],[219.9,-85.4],[218.5,-90],[154.6,-90],[152,-73.5],[147.8,-59.3],[145.7,-49.7]];
const P2_SR_NAVY=[[146.4,-45],[151.2,-40.8],[159.5,-40.8],[169.1,-42.6],[180.1,-48.6],[189.6,-54.5],[197.9,-59.3],[206.8,-62.2],[210.3,-65.8],[217.1,-70],[219.2,-78.3],[217.1,-90],[155.3,-90],[152.6,-73.5],[148.5,-59.3],[147.1,-49.7]];
const P2_SR_STRIPE=[[209.6,-90],[210.9,-67.6],[213.7,-71.2],[213.3,-90]];

const P2_NW_STEEL=[[0,38.8],[0.7,36],[1.4,38.2],[2.2,33],[3,34.6],[3.8,38],[4.8,40],[5.6,36.5],[6.4,39],[7.2,37.5],[8.2,38.8],[9.6,38.2],[10.2,42],[11,41.8],[11.8,37],[12.8,40.5],[13.7,40],[14.6,43.5],[15.8,43],[16.8,39.5],[17.8,42.5],[18.6,41.8],[19.6,45],[20.6,44.2],[21.6,41],[22.6,43],[24,38.5],[24.7,44],[25.4,45.4],[26.4,42.5],[27.5,46],[28.9,47.1],[29.6,42.4],[30.7,46],[31.9,47.1],[33,44.5],[34,47.5],[35.7,46.5],[37,48.5],[38,45.5],[39.2,48.9],[40.5,45],[41.9,46.5],[43,50.5],[44,51.3],[45.5,47.5],[47,51],[48.8,50.7],[50,53],[51,50.5],[52.2,54.9],[53.2,50],[54.3,52.5],[55.5,57],[57,58.5],[58,55],[59.8,60.8],[61.2,60.8],[63,58.5],[64.5,63],[66,65],[68,62.5],[70,66.5],[72.9,67.4],[75,64.5],[76.5,68.5],[78.4,69.2],[80,66.5],[81.5,70],[83.8,70.4],[85.5,67.5],[87.3,66.8],[89.3,70.4],[90.7,62.3],[92.1,73.3],[94.8,71.5],[96,68],[98.3,72.7],[99.3,70],[100.3,79.3],[100.8,90],[0,90]];
const P2_NW_LIGHT=[[0,40],[3,36.5],[4.8,41.5],[8.2,40.5],[11,41.8],[13.7,41.5],[15.8,44],[18.6,43],[20.6,45.5],[24,40],[25.4,47],[28.9,48],[29.6,44],[31.9,48.5],[35.7,48],[39.2,50.5],[41.9,48.5],[44,53],[48.8,52],[52.2,56.5],[54.3,54],[57,60.5],[59.8,62.5],[66,66.5],[72.9,68.8],[83.8,72],[87.3,70],[89.3,72],[92,74.5],[98.3,76],[100.3,81],[100.8,90],[0,90]];
const P2_NW_DEEP=[[0,41.8],[2,40.6],[4.8,43],[8.2,42.4],[10.3,43.5],[13.7,43.5],[15.8,45.9],[18.6,44.7],[20.6,47.1],[24,41.8],[25.4,48.3],[28.9,49.5],[29.6,45.9],[31.9,50.1],[35.7,50.1],[39.2,51.9],[41.9,50.7],[44,54.9],[48.8,53.7],[52.2,58.4],[54.3,56],[57,62.6],[59.8,64.4],[66,68.5],[72.9,70.3],[83.8,73.9],[87.3,73.3],[92.1,76.3],[98.3,79.3],[100.3,82.3],[100.8,90],[0,90]];
const P2_NW_ROYAL=[[0,43],[2.5,42.4],[4.8,45.9],[8.2,44.7],[10.7,47.1],[13.7,45.9],[15.8,48.9],[18.6,47.1],[20.6,49.5],[24,45.3],[25.4,50.7],[28.9,51.3],[29.6,48.9],[31.9,52.5],[35.7,51.9],[39.2,54.3],[41.9,53.1],[44,57.2],[48.8,56],[52.2,60.8],[54.3,57.8],[57,65],[59.8,66.2],[66,70.3],[72.9,72.7],[83.8,75.7],[87.3,75.1],[92.1,78],[98.3,81],[100.3,84],[100.8,90],[0,90]];
const P2_NW_BLUE=[[0,47.1],[4.1,47.1],[7.6,51.9],[10.3,50.1],[13.1,51.9],[16.5,54.9],[19.9,51.9],[23.4,56],[28.2,55.5],[32.3,58.4],[35.8,56],[39.9,60.8],[44,58.4],[48.8,61.9],[52.3,60.2],[56.4,66.2],[59.8,69.2],[66,72.7],[72.9,75.1],[83.9,78.7],[92.1,81],[98.3,83.4],[100.7,85.8],[100.8,90],[0,90]];
const P2_NW_MEDIUM=[[0,48.3],[5.5,50.1],[8.2,53.7],[13.1,53.7],[16.5,56.6],[23.4,57.8],[28.2,57.2],[32.3,60.2],[39.9,63.2],[48.8,65],[56.4,68.5],[59.8,70.9],[66,73.9],[72.9,76.9],[83.9,79.9],[92.1,82.8],[98.3,84.6],[100.7,87],[100.8,90],[0,90]];
const P2_NW_NAVY=[[0,50.1],[8.2,54.9],[16.5,58.4],[28.2,60.8],[39.9,65.6],[48.8,67.3],[56.4,70.3],[59.8,72.7],[66,75.1],[72.9,78],[83.9,81],[92.1,84],[98.3,85.8],[100.4,88.2],[100.4,90],[0,90]];
const P2_V_A=[[24.8,79.3],[27.5,80.4],[28.9,73.9],[25.4,70.9]];
const P2_V_B=[[30,83.4],[31.4,75.1],[30,75.1]];
const P2_V_C=[[33,88.2],[35.8,85.2],[37.1,86.4],[45.4,87],[46.8,90],[59.1,90],[59.8,73.9],[52.3,70.9],[46.8,71.5],[41.3,72.1],[37.1,70.9],[34.4,69.7],[33,73.3]];
const P2_V_D=[[89.4,90],[98.3,90],[98.3,86.4],[92.1,84],[89.4,82.8]];
const P2_M_A=[[47.4,84.6],[48.8,89.4],[50.2,72.7],[48.1,73.9]];
const P2_M_B=[[50.9,89.4],[52.9,90],[53.6,78.7],[52.3,71.5],[50.9,81]];
const P2_M_C=[[55,89.4],[56.4,90],[89.4,90],[89.4,84],[78.4,81],[67.4,78.7],[60.5,76.3],[56.4,72.1],[55,77.5]];
const P2_NE_STEEL=[[151.2,90],[150.6,71],[151.5,66],[153.3,55],[154,49.2],[155.5,53],[157.4,52.5],[158.5,50],[159.5,49],[161,51.5],[162.9,49.5],[164.3,47.7],[166,50.5],[167.5,47.5],[169.8,50],[171.5,48],[173.3,46],[176,47],[178,44.5],[180,45.3],[183,44],[185.5,42.4],[187.3,45],[188.9,45.9],[191,43.5],[193.8,44.7],[196,43],[199.3,44.7],[202,43.5],[204.8,45.3],[206.1,38.8],[207.7,42.5],[209.6,43],[211,39.5],[213,38.8],[214.7,36],[216.4,31],[217.4,36],[218.5,38.2],[220.5,35.5],[222,37],[223.7,34],[225.4,33.4],[226.7,36],[228.1,32.2],[230.2,37],[231.8,33.5],[233.6,32.2],[236,33],[238.4,29.9],[239.7,31.5],[241.2,27.5],[243,31],[244.6,29.9],[246.7,27.5],[248.8,26.3],[250.8,28.7],[252.5,25.5],[254.3,23.9],[256,27],[257.7,28.7],[259.5,25],[261.1,22.7],[263,26],[265.3,26.9],[266.7,24.5],[268,22.7],[270,26],[272.1,26.9],[273.5,24],[274.9,21.5],[277.5,23.5],[280.4,22.1],[281.7,24.5],[283.1,24.5],[285.5,22.5],[288.6,22.7],[291,24.5],[294.1,22.7],[296.5,25],[299,26.3],[300.3,25.1],[302.5,28],[305.1,28.1],[307.5,26.5],[310.6,29.3],[312.7,27.5],[314.8,29.9],[318,27.5],[321,26.9],[322,31],[323,33.4],[325.5,31],[328.5,32.2],[331,29],[334.7,27.7],[336.2,32],[338.1,35.8],[340,34],[342.3,37.6],[343.7,34],[345,31],[347,35.5],[349.1,37.6],[350.5,33.4],[352.2,36.5],[353.9,37.6],[355.5,35.5],[357.6,38.2],[357.6,90]];
const P2_NE_LIGHT=[[151.2,90],[151,70],[152,64],[154,55],[157.4,54.5],[160,51.5],[163,52],[165,50],[170,52.5],[173.5,49],[180,48],[185.5,45.5],[189,47.5],[194,46.5],[199,47],[205,46.5],[206.5,42],[209.6,45],[213,41],[216.4,35],[218.5,40],[225.4,36],[228,35],[230.2,39.5],[233.6,35],[238.4,32.5],[241.2,30.5],[244.6,32.5],[248.8,29.5],[251,31.5],[254.3,27],[257.7,31.5],[261,26.5],[265.3,29.5],[268,26.5],[272,29.5],[275,26],[280.4,26],[283,27.5],[288.6,26.5],[294,26.5],[299,29],[300.3,28.5],[305,31],[310.6,32.5],[314.8,33],[321,30.5],[323,36],[328.5,35.5],[334.7,31],[338,38.5],[342.3,40],[345,34.5],[349,40],[350.5,37],[354,40],[357.6,40.5],[357.6,90]];
const P2_NE_DEEP=[[151.2,90],[151.5,70],[152.5,64],[155,57],[157.4,56.5],[160,54],[163,54.5],[165,52.5],[170,54.5],[173.5,52],[180,50.5],[185.5,48],[189,49.5],[194,48.5],[199,49],[205,48.5],[206.5,45],[209.6,46.5],[213,43],[216.4,38],[218.5,41.5],[225.4,38],[228,37],[230.2,41],[233.6,37],[238.4,34.5],[241.2,32.5],[244.6,34],[248.8,31.5],[251,33],[254.3,29.5],[257.7,33],[261,29],[265.3,31.5],[268,29],[272,31.5],[275,28.5],[280.4,28.5],[283,29.5],[288.6,29],[294,29],[299,31],[300.3,30.5],[305,33],[310.6,34.5],[314.8,35],[321,33],[323,38],[328.5,37.5],[334.7,33.5],[338,40],[342.3,41.5],[345,37],[349,41.5],[350.5,39.5],[354,41.5],[357.6,42],[357.6,90]];
const P2_NE_ROYAL=[[151.2,90],[152,70],[153,64],[155.5,58.5],[157.4,58],[160,55.5],[163,56],[165,54],[170,56],[173.5,53.5],[180,52],[185.5,50.5],[189,51.5],[194,50.5],[199,51],[205,50],[207,47.5],[210,48.5],[213,45],[216.4,40],[218.5,43],[225.4,39.5],[228,38.5],[230.2,42.5],[233.6,38.5],[238.4,36],[241.2,34.5],[244.6,35.5],[248.8,33.5],[251,34.5],[254.3,31.5],[257.7,34.5],[261,31],[265.3,33],[268,31],[272,33],[275,30.5],[280.4,30.5],[283,31],[288.6,31],[294,31],[299,33],[300.3,32.5],[305,35],[310.6,36],[314.8,36.5],[321,35],[323,39.5],[328.5,39],[334.7,36],[338,41.5],[342.3,43],[345,40],[349,43],[350.5,41.5],[354,43],[357.6,43.5],[357.6,90]];
const P2_NE_BLUE=[[151.2,90],[152.5,70],[154,61],[157,62],[161,59],[165,57],[170,57.5],[175,56],[181,58.4],[187,61],[193.8,61.4],[200.6,58.4],[204.8,54.9],[210.3,50],[214.4,44],[218.5,41.8],[229.5,41.8],[239.8,37.6],[246,35.8],[265.3,34.6],[287.3,35.8],[299.6,37],[314.8,40.6],[328.5,42.4],[342.3,44.7],[357.6,45.9],[357.6,90]];
const P2_NE_R1=[[188.9,90],[191.7,90],[191,81]];
const P2_NE_R2=[[193.1,90],[197.9,90],[195.8,72],[195,68]];
const P2_NE_R3=[[198.6,90],[209.6,90],[206.8,82],[203.4,72],[202.7,61.4],[201.3,72],[199.9,75]];
const P2_NE_MEDIUM_L=[[151.2,90],[153,68],[155,63],[160,61],[165,59.5],[170,59],[177,58],[180,61],[185,63],[187,75],[188.9,90]];
const P2_NE_NAVY_L=[[151.5,90],[153,70],[155,66],[160,63],[165,62.5],[172,60.5],[177,62],[180,66],[181,90]];
const P2_NE_MEDIUM_R=[[208,90],[209.6,60],[212,52],[216,47],[222,45.5],[229,44],[240,41.5],[246,41],[265.3,39.5],[287,40.5],[300,41],[315,43],[328,44],[342,46],[357.6,47.5],[357.6,90]];
const P2_NE_NAVY_R=[[212.7,57],[214.4,68],[218.5,72.7],[224,81],[226.8,70],[228.4,62.6],[233.6,68],[235,83.4],[239,77.5],[241.9,81],[246.7,72.7],[247.4,81],[253,82.8],[258.4,84.6],[263.9,88.8],[268,81],[272,72.7],[273,79.8],[277.6,79.3],[281.8,75],[287.3,73.9],[291.4,75.7],[299,73.9],[301,77.5],[309,79.8],[314,83.4],[320,79.8],[325,78],[328.5,82.2],[336.8,83.4],[345,85.8],[351.9,87],[357.6,88.8],[357.6,49.5],[342.3,47.3],[328.5,45.9],[314.8,44.7],[299,44.1],[279,40.8],[257,41.8],[239.8,43],[229.5,45.9],[217.1,49.5],[213,54.9]];
const P2_NE_TOPBLUE=[[240,90],[240,86],[250,85],[258,85],[265,86],[268,87],[270,84],[277,83],[287,82],[294,85],[300,86],[310,85],[320,86],[330,84.5],[337,86.5],[345,87.5],[352,88],[357,90]];
const P2_NE_V1=[[152.4,84.6],[154,87],[154.3,77.5],[153.3,72.7]];
const P2_NE_V2=[[157,84.6],[158.8,89.4],[161.6,78.7],[160.6,69.7],[156.8,75.1]];
const P2_NE_V3=[[162.9,84],[166.1,85.2],[165.7,73.9],[163.9,73.3],[162.9,79.9]];
const P2_NE_V4=[[168.9,78],[170.8,87],[171.9,82.2],[169.8,72.7]];
const P2_NE_M1=[[157.9,82.2],[159.5,83.4],[161.2,75.1],[159.5,73.3]];

const BOT_LAYERS=[[CYAN,P2_DOMAIN],[STEEL,P2_EQ_LEFT],[STEEL,P2_CENTRAL],[STEEL,P2_SPOT_A],[STEEL,P2_SPOT_B],[STEEL,P2_TOOTH_A],[STEEL,P2_TOOTH_B],[STEEL,P2_TOOTH_C],[STEEL,P2_EQ_RIGHT],
[CYAN,P2_HOLE_A],[CYAN,P2_HOLE_B],[CYAN,P2_HOLE_C],[LIGHT,P2_C_LIGHT],[SKY,P2_C_SKY],[LSKY,P2_C_LSKY],
[DEEP,P2_SPIKE_1],[DEEP,P2_SPIKE_2],[DEEP,P2_SPIKE_3],[DEEP,P2_SPIKE_4],[DEEP,P2_SPIKE_5],[DEEP,P2_SPIKE_6],[DODGER,P2_SPIKE_7],
[STEEL,P2_S_STEEL],[LIGHT,P2_S_LIGHT],[DEEP,P2_S_DEEP],[ROYAL,P2_S_ROYAL],
[CORN,P2_H_CORN],[DODGER,P2_H_DODGER],[DEEP,P2_H_DEEP],[LSKY,P2_H_LSKY],[LIGHT,P2_H_LIGHT],[STEEL,P2_H_STEEL],[CYAN,P2_H_CYAN_A],[CYAN,P2_H_CYAN_B],[CYAN,P2_H_CYAN_C],
[CORN,P2_Z_CORN],[DEEP,P2_Z_DEEP],[STEEL,P2_Z_STEEL],[LIGHT,P2_K_LIGHT],[DEEP,P2_K_DEEP],[ROYAL,P2_K_ROYAL],
[STEEL,P2_M_STEEL],[LIGHT,P2_M_LIGHT],[CYAN,P2_M_CYAN_A],[CYAN,P2_M_CYAN_B],[DEEP,P2_M_DEEP],[ROYAL,P2_M_ROYAL],[CORN,P2_M_CORN],[BLUE,P2_M_BLUE],[CYAN,P2_M_CYAN_C],
[STEEL,P2_SE_STEEL],[LIGHT,P2_SE_LIGHT],[DEEP,P2_SE_DEEP],[ROYAL,P2_SE_ROYAL],[BLUE,P2_SE_BLUE],[MEDIUM,P2_SE_MEDIUM],[NAVY,P2_SE_NAVY],
[BLUE,P2_SL_BLUE],[MEDIUM,P2_SL_MEDIUM],[NAVY,P2_SL_NAVY],[NAVY,P2_SL_NAVY2],
[BLUE,P2_SR_P1],[BLUE,P2_SR_P2],[BLUE,P2_SR_BLUE],[MEDIUM,P2_SR_MEDIUM],[NAVY,P2_SR_NAVY],[MEDIUM,P2_SR_STRIPE],
[STEEL,P2_NW_STEEL],[LIGHT,P2_NW_LIGHT],[DEEP,P2_NW_DEEP],[ROYAL,P2_NW_ROYAL],[BLUE,P2_NW_BLUE],[MEDIUM,P2_NW_MEDIUM],[NAVY,P2_NW_NAVY],
[VIOLET,P2_V_A],[VIOLET,P2_V_B],[VIOLET,P2_V_C],[VIOLET,P2_V_D],[MAGENTA,P2_M_A],[MAGENTA,P2_M_B],[MAGENTA,P2_M_C],
[STEEL,P2_NE_STEEL],[LIGHT,P2_NE_LIGHT],[DEEP,P2_NE_DEEP],[ROYAL,P2_NE_ROYAL],[BLUE,P2_NE_BLUE],[ROYAL,P2_NE_R1],[ROYAL,P2_NE_R2],[ROYAL,P2_NE_R3],
[MEDIUM,P2_NE_MEDIUM_L],[NAVY,P2_NE_NAVY_L],[MEDIUM,P2_NE_MEDIUM_R],[NAVY,P2_NE_NAVY_R],[BLUE,P2_NE_TOPBLUE],
[VIOLET,P2_NE_V1],[VIOLET,P2_NE_V2],[VIOLET,P2_NE_V3],[VIOLET,P2_NE_V4],[MAGENTA,P2_NE_M1]];

/* ---------- shared drawing ---------- */
const FONT='"DejaVu Sans"';
const poly=(color,pts,i)=>({data:pts.map(([x,y])=>({x,y})),showLine:true,fill:'shape',backgroundColor:color,borderColor:color,borderWidth:0,pointRadius:0,order:-i});
const DASH=[16,4,2.5,4];
const framePlugin={id:'frame',afterDraw(c){const a=c.chartArea,g=c.ctx;g.save();g.strokeStyle='#000';g.lineWidth=1.5;g.strokeRect(a.left,a.top,a.right-a.left,a.bottom-a.top);g.restore();}};
function panel(id,layers,latMax,padTop,title){
  new Chart(document.getElementById(id),{type:'scatter',
    data:{datasets:layers.map(([c,p],i)=>poly(c,p,i))},
    plugins:[framePlugin],
    options:{responsive:false,animation:false,devicePixelRatio:1,events:[],
      layout:{autoPadding:false,padding:{top:padTop,right:47,left:0,bottom:0}},
      plugins:{legend:{display:false},tooltip:{enabled:false},
        title:{display:!!title,text:title||'',fullSize:false,color:'#000',font:{family:FONT,size:48,weight:'normal',lineHeight:0.85},padding:0}},
      scales:{
        x:{type:'linear',min:0,max:360,afterBuildTicks:s=>{s.ticks=LS_TICKS.map(v=>({value:v}))},afterFit:s=>{s.height=111;s.paddingLeft=0;s.paddingRight=0},
          grid:{z:1,color:'#000',lineWidth:2.6,tickColor:'#000',tickWidth:1.2,tickLength:5,tickBorderDash:[]},border:{display:false,dash:DASH},
          ticks:{color:'#000',font:{family:FONT,size:48},padding:-1,maxRotation:0,autoSkip:false,callback:v=>String(v)},
          title:{display:true,text:'Ls, deg',color:'#000',font:{family:FONT,size:48,lineHeight:0.92},padding:{top:0,bottom:0}}},
        y:{type:'linear',min:-latMax,max:latMax,afterBuildTicks:s=>{s.ticks=LAT_TICKS.map(v=>({value:v}))},afterFit:s=>{s.width=180;s.paddingTop=0;s.paddingBottom=0},
          grid:{z:1,color:'#000',lineWidth:2.4,tickColor:'#000',tickWidth:1.2,tickLength:7,tickBorderDash:[]},border:{display:false,dash:DASH},
          ticks:{color:'#000',font:{family:FONT,size:48},padding:3,labelOffset:5,autoSkip:false,callback:v=>v<0?'\u2212'+Math.abs(v):String(v)},
          title:{display:true,text:'Latitude, deg',color:'#000',font:{family:FONT,size:48,lineHeight:1},padding:{top:16,bottom:0}}}
      }}});
}
panel('top',TOP_LAYERS,88.5,31,'');
panel('bot',BOT_LAYERS,90,42.2,'32 levels');

const CB_MIN=-0.736,CB_MAX=15.78;
const CB_LOWER=[[0,0],[1,0],[0.5,CB_MIN]];
const CB_UPPER=[[0,15],[1,15],[0.5,CB_MAX]];
const CB_OUTLINE=[[0.5,CB_MIN],[1,0],[1,15],[0.5,CB_MAX],[0,15],[0,0],[0.5,CB_MIN]];
function colorbar(id,top){
  const rects=CB_COLORS.map((c,i)=>poly(c,[[0,i],[1,i],[1,i+1],[0,i+1]],i));
  const ds=[...rects,poly(CB_COLORS[0],CB_LOWER,20),poly(CB_COLORS[14],CB_UPPER,21),
    {data:CB_OUTLINE.map(([x,y])=>({x,y})),showLine:true,fill:false,borderColor:'#555',borderWidth:1,pointRadius:0,order:-30,clip:4}];
  new Chart(document.getElementById(id),{type:'scatter',data:{datasets:ds},
    plugins:[{id:'cbtitle',afterDraw(c){const g=c.ctx;g.save();g.translate(139,c.chartArea.top+c.chartArea.height/2-1);g.rotate(-Math.PI/2);g.font='30.4px '+FONT;g.fillStyle='#000';g.textAlign='center';g.textBaseline='middle';g.fillText('tauTES : Cloud opacity at 825 cm-1',0,0);g.restore();}}],
    options:{responsive:false,animation:false,devicePixelRatio:1,events:[],
      layout:{autoPadding:false,padding:{top:top,left:14,right:0,bottom:34}},
      plugins:{legend:{display:false},tooltip:{enabled:false}},
      scales:{
        x:{type:'linear',min:0,max:1,display:false},
        y:{type:'linear',position:'right',min:CB_MIN,max:CB_MAX,afterBuildTicks:s=>{s.ticks=CB_TICKS.map(v=>({value:v}))},afterFit:s=>{s.width=118;s.paddingTop=0;s.paddingBottom=0},
          grid:{display:true,drawOnChartArea:false,tickColor:'#333',tickLength:6,tickWidth:1},border:{display:false},
          ticks:{color:'#000',font:{family:FONT,size:30},padding:3,labelOffset:3,autoSkip:false,callback:v=>CB_LABELS[CB_TICKS.indexOf(v)]}}
      }}});
}
colorbar('cbTop',31);
colorbar('cbBot',31);
</script></body></html>
